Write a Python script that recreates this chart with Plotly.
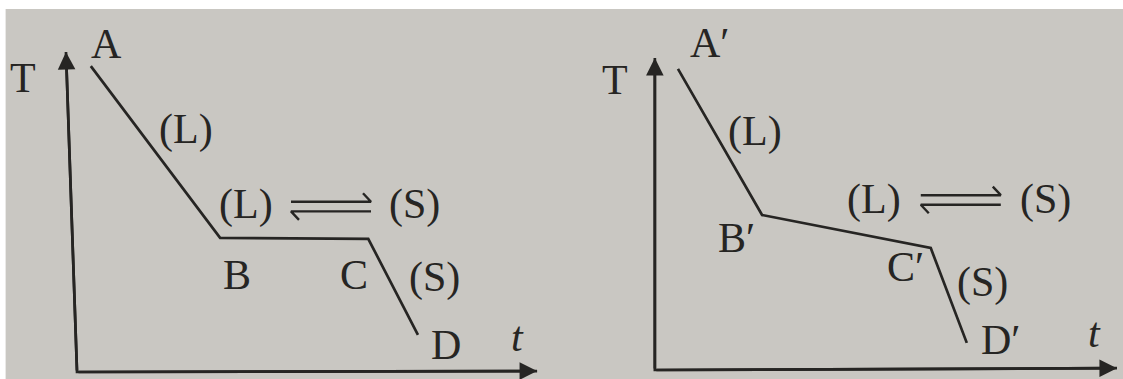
import plotly.graph_objects as go
from plotly.subplots import make_subplots

# ---- data (schematic cooling curves, arbitrary units t / T) ----
left_t = [0.30, 3.11, 6.33, 7.41]
left_T = [9.56, 4.19, 4.16, 1.16]
right_t = [0.50, 2.32, 5.97, 6.75]
right_T = [9.65, 4.97, 3.91, 0.87]

left_labels = ["A", "T", "(L)", "(L)", "(S)", "B", "C", "(S)", "D", "<i>t</i>"]
left_lab_t = [0.65, -1.17, 2.37, 3.67, 7.33, 3.48, 6.02, 7.76, 8.02, 9.57]
left_lab_T = [10.25, 9.19, 7.59, 5.22, 5.22, 3.03, 3.03, 2.94, 0.84, 1.09]
left_eq = (5.52, 5.17)

right_labels = ["A\u2032", "T", "(L)", "(L)", "(S)", "B\u2032", "C\u2032", "(S)", "D\u2032", "<i>t</i>"]
right_lab_t = [1.19, -0.87, 2.16, 4.74, 8.46, 1.77, 5.43, 7.10, 7.49, 9.52]
right_lab_T = [10.48, 9.29, 7.66, 5.45, 5.45, 4.23, 3.30, 2.79, 0.96, 1.19]
right_eq = (6.62, 5.45)

INK = "#262523"
PAPER = "#c9c7c2"
FONT = "Liberation Serif"

fig = make_subplots(rows=1, cols=2, horizontal_spacing=0.0)

def add_panel(col, ts, Ts, labels, lt, lT, eq, yaxis_top_t, xaxis_tip_T, px_t, px_T):
    xr = "x" if col == 1 else "x2"
    yr = "y" if col == 1 else "y2"
    fig.add_trace(go.Scatter(x=ts, y=Ts, mode="lines",
                             line=dict(color=INK, width=2.7),
                             hoverinfo="skip", showlegend=False), row=1, col=col)
    # axes drawn as arrows
    fig.add_annotation(x=yaxis_top_t, y=10.0, ax=0, ay=0, xref=xr, yref=yr,
                       axref=xr, ayref=yr, showarrow=True, arrowhead=2,
                       arrowsize=1.3, arrowwidth=2.7, arrowcolor=INK, text="")
    fig.add_annotation(x=10.0, y=xaxis_tip_T, ax=0, ay=0, xref=xr, yref=yr,
                       axref=xr, ayref=yr, showarrow=True, arrowhead=2,
                       arrowsize=1.3, arrowwidth=2.7, arrowcolor=INK, text="")
    for s, a, b in zip(labels, lt, lT):
        fig.add_annotation(x=a, y=b, xref=xr, yref=yr, text=s, showarrow=False,
                           xanchor="center", yanchor="middle",
                           font=dict(family=FONT, size=42, color=INK))
    # equilibrium harpoons
    cx, cy = eq
    hw = 40.0 / px_t
    dy = 4.8 / px_T
    bx = 8.0 / px_t
    by = 8.5 / px_T
    fig.add_trace(go.Scatter(
        x=[cx - hw, cx + hw, cx + hw - bx, None, cx + hw, cx - hw, cx - hw + bx],
        y=[cy + dy, cy + dy, cy + dy + by, None, cy - dy, cy - dy, cy - dy - by],
        mode="lines", line=dict(color=INK, width=2.4),
        hoverinfo="skip", showlegend=False), row=1, col=col)

add_panel(1, left_t, left_T, left_labels, left_lab_t, left_lab_T, left_eq,
          -0.24, 0.03, 46.0, 32.0)
add_panel(2, right_t, right_T, right_labels, right_lab_t, right_lab_T, right_eq,
          0.0, 0.06, 46.2, 31.2)

# axis base lines from origin
fig.add_trace(go.Scatter(x=[-0.24, 0, 10], y=[10, 0, 0.03], mode="lines",
                         line=dict(color=INK, width=2.7), hoverinfo="skip",
                         showlegend=False), row=1, col=1)
fig.add_trace(go.Scatter(x=[0, 0, 10], y=[10, 0, 0.06], mode="lines",
                         line=dict(color=INK, width=2.7), hoverinfo="skip",
                         showlegend=False), row=1, col=2)

ax_common = dict(visible=False, showgrid=False, zeroline=False, fixedrange=True)
fig.update_xaxes(**ax_common)
fig.update_yaxes(**ax_common)
fig.update_layout(
    xaxis=dict(domain=[0, 0.5], range=[-1.674, 10.53]),
    yaxis=dict(range=[-0.219, 11.625]),
    xaxis2=dict(domain=[0.5, 1.0], range=[-2.02, 10.13]),
    yaxis2=dict(range=[-0.288, 11.86]),
    width=1123, height=379,
    margin=dict(l=0, r=0, t=0, b=0),
    paper_bgcolor="white", plot_bgcolor="rgba(0,0,0,0)",
    showlegend=False,
    shapes=[dict(type="rect", xref="paper", yref="paper", x0=0.005, x1=1,
                 y0=0, y1=1 - 9 / 379, fillcolor=PAPER, line=dict(width=0),
                 layer="below")],
)

fig.write_html(
    "out.html",
    config={"displayModeBar": False},
    post_script="document.body.style.margin='0';document.body.style.overflow='hidden';",
)
